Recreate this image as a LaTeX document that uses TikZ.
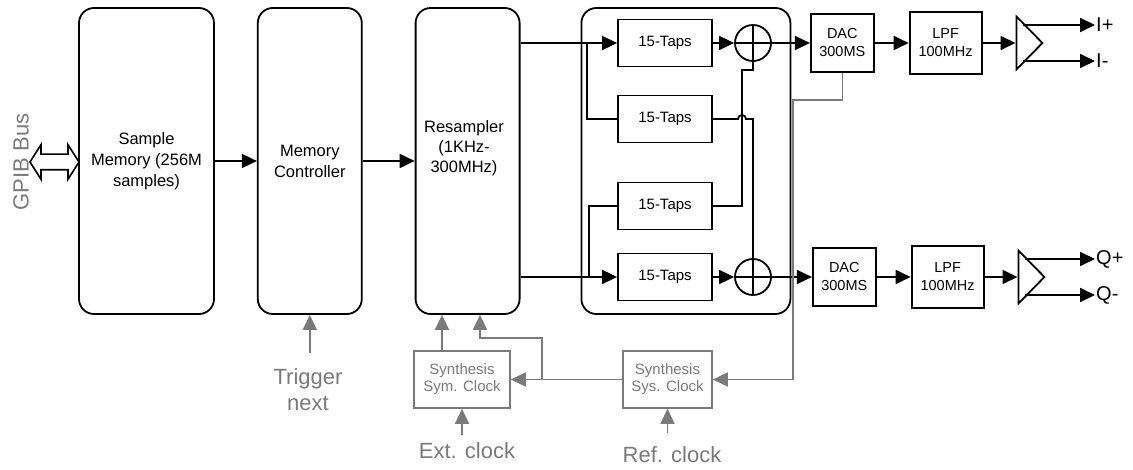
\documentclass[tikz,border=0pt]{standalone}
\usepackage{fontspec}
\setmainfont{Liberation Sans}
\usetikzlibrary{positioning, arrows.meta, shapes.geometric, shapes.arrows, calc}
\definecolor{clkgray}{RGB}{122,122,122}

\begin{document}
\begin{tikzpicture}[x=1pt, y=-1pt,
    blk/.style={draw, line width=1.8pt, rounded corners=15pt, minimum height=306pt, align=center, font=\fontsize{16.5}{21}\selectfont},
    taps/.style={draw, line width=1.8pt, minimum width=94pt, minimum height=47pt, font=\fontsize{15}{18}\selectfont},
    conv/.style={draw, line width=1.8pt, align=center, font=\fontsize{14.5}{18}\selectfont},
    sum/.style={circle, draw, line width=1.8pt, minimum size=36pt, inner sep=0pt,
            path picture={\draw[line width=1.8pt] (path picture bounding box.north)--(path picture bounding box.south) (path picture bounding box.west)--(path picture bounding box.east);}},
    amp/.style={isosceles triangle, isosceles triangle stretches, draw, line width=1.8pt, inner sep=0pt, minimum width=53pt, minimum height=26pt},
    synth/.style={draw=clkgray, text=clkgray, line width=1.6pt, minimum height=57pt, align=center, font=\fontsize{15}{17}\selectfont},
    wire/.style={line width=1.8pt},
    arr/.style={line width=1.8pt, -{Triangle[length=15pt,width=14pt]}},
    clk/.style={line width=1.6pt, clkgray, -{Triangle[length=15pt,width=14pt]}},
    note/.style={text=clkgray, align=center, inner sep=0pt, outer sep=8pt, font=\fontsize{22}{26}\selectfont},
    outl/.style={anchor=west, inner sep=1pt, font=\fontsize{20}{24}\selectfont}]

\useasboundingbox (0,0) rectangle (1133,470);

%main chain============================================================
\node[blk, minimum width=135pt] (mem) at (146.5,161) {Sample\\Memory (256M\\samples)};
\node[blk, minimum width=104pt, right=42pt of mem] (ctrl) {Memory\\Controller};
\node[blk, minimum width=104pt, right=52pt of ctrl] (resamp) {};
\node[align=center, font=\fontsize{16.5}{20}\selectfont] (resamptxt) at (464,148) {Resampler\\(1KHz-\\300MHz)};
\node[blk, minimum width=209pt, right=60pt of resamp] (fir) {};

\node[double arrow, draw, line width=1.6pt, inner sep=7pt, minimum height=49pt, double arrow head extend=9.5pt, double arrow tip angle=115] (gpib) at (54.5,162) {};
\node[note, rotate=90] (gpibtxt) at (21,162) {GPIB Bus};

\draw[arr] (mem)--(ctrl);
\draw[arr] (ctrl)--(resamp);
%=======================================================================

%filter bank===========================================================
\node[taps] (tapsA) at (665,43) {15-Taps};
\node[taps] (tapsB) at (665,119) {15-Taps};
\node[taps] (tapsC) at (665,206) {15-Taps};
\node[taps] (tapsD) at (665,277) {15-Taps};
\node[sum] (sumI) at (753,43) {};
\node[sum] (sumQ) at (753,277) {};

\coordinate (splitI) at (587,43);
\coordinate (splitQ) at (589,277);
\draw[arr] (resamp.east |- tapsA.west)--(tapsA.west);
\draw[arr] (resamp.east |- tapsD.west)--(tapsD.west);
\draw[wire] (splitI) |- (tapsB.west);
\draw[wire] (splitQ) |- (tapsC.west);
\draw[arr] (tapsA)--(sumI);
\draw[arr] (tapsD)--(sumQ);
\draw[wire] (tapsB.east)--(738,119) arc[start angle=180, end angle=360, radius=4]--(sumQ.north |- tapsB.east)--(sumQ.north);
\draw[wire] (tapsC.east) -| (742,70) -| (sumI.south);
%=======================================================================

%I and Q outputs=======================================================
\node[conv, minimum width=63pt, minimum height=58pt, right=38pt of sumI] (dacI) {DAC\\300MS};
\node[conv, minimum width=72pt, minimum height=62pt, right=34pt of dacI] (lpfI) {LPF\\100MHz};
\node[amp, right=33pt of lpfI] (ampI) {};
\node[conv, minimum width=63pt, minimum height=58pt, right=40pt of sumQ] (dacQ) {DAC\\300MS};
\node[conv, minimum width=72pt, minimum height=62pt, right=34pt of dacQ] (lpfQ) {LPF\\100MHz};
\node[amp, right=33pt of lpfQ] (ampQ) {};

\node[outl] (ip) at (1095,25) {I+};
\node[outl] (im) at (1095,61) {I-};
\node[outl] (qp) at (1095,259) {Q+};
\node[outl] (qm) at (1095,295) {Q-};

\draw[arr] (sumI)--(dacI);
\draw[arr] (dacI)--(lpfI);
\draw[arr] (lpfI)--(ampI);
\draw[arr] (sumQ)--(dacQ);
\draw[arr] (dacQ)--(lpfQ);
\draw[arr] (lpfQ)--(ampQ);
\draw[arr] ($(ampI.west)+(7,-18)$)--(ip.west);
\draw[arr] ($(ampI.west)+(7,18)$)--(im.west);
\draw[arr] ($(ampQ.west)+(7,-18)$)--(qp.west);
\draw[arr] ($(ampQ.west)+(7,18)$)--(qm.west);
%=======================================================================

%clocks================================================================
\node[synth, minimum width=96pt] (sym) at (462,379.5) {Synthesis\\Sym. Clock};
\node[synth, minimum width=89pt] (sys) at (667.5,379.5) {Synthesis\\Sys. Clock};
\node[note, outer ysep=16pt] (trig) at (308,390) {Trigger\\next};
\node[note] (ext) at (467,451) {Ext. clock};
\node[note, outer ysep=14pt] (ref) at (672,455) {Ref. clock};

\coordinate (clkfork) at (542,379.5);
\coordinate (ckin) at (480,338);
\coordinate (symout) at ([xshift=-20pt]sym.north);
\coordinate (ckroute) at (793,100);

\draw[clk] (ctrl.south |- trig.north)--(ctrl.south);
\draw[clk] (sys)--(sym);
\draw[clk] (clkfork) |- (ckin)--(ckin |- resamp.south);
\draw[clk] (symout)--(symout |- resamp.south);
\draw[clk] (sym.south |- ext.north)--(sym.south);
\draw[clk] (sys.south |- ref.north)--(sys.south);
\draw[clk] (dacI.south) |- (ckroute) |- (sys.east);
%=======================================================================

\end{tikzpicture}
\end{document}
